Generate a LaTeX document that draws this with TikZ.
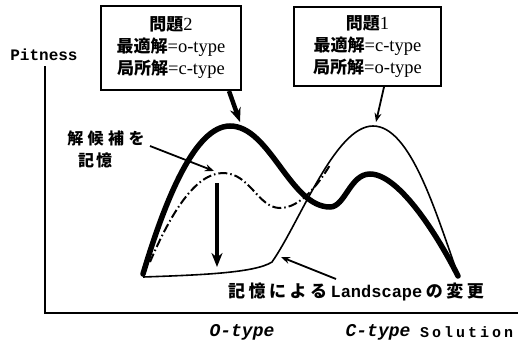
\documentclass[tikz,border=0pt]{standalone}
\usepackage{fontspec}
\setmainfont{Liberation Serif}
\setmonofont{Liberation Mono}
\newfontfamily\cjk{Noto Sans CJK JP}
\usetikzlibrary{arrows.meta}
\newcommand\jsp{\hspace{3.5pt}}
\newcommand\lk{\kern3pt}
\tikzset{
  box/.style={draw, line width=2pt, inner sep=0pt, align=center,
    font=\fontsize{18.5}{22}\selectfont},
  thickcurve/.style={line width=5.5pt, line cap=round},
  thincurve/.style={line width=1.6pt},
  dashdotcurve/.style={line width=2pt, dash pattern=on 9pt off 3pt on 1.5pt off 3pt},
  bigarrow/.style={line width=4.5pt, -{Stealth[length=14pt,width=11pt]}},
  smallarrow/.style={line width=1.8pt, -{Stealth[length=9pt,width=7pt]}},
  axis/.style={line width=2.5pt},
  jlabel/.style={inner sep=0pt, font=\cjk\bfseries\fontsize{16}{16}\selectfont},
  ttlabel/.style={inner sep=0pt, font=\ttfamily\bfseries\fontsize{16}{16}\selectfont},
}
\begin{document}
\begin{tikzpicture}[x=1pt, y=-1pt]
\useasboundingbox (0,0) rectangle (518,340);

% axes
\coordinate (ytop) at (45,66);
\coordinate (origin) at (45,313);
\coordinate (xend) at (518,313);
\draw[axis] (ytop) -- (origin) -- (xend);

% boxes
\node[box, minimum width=140pt, minimum height=84pt] (box2) at (171,48)
  {{\cjk\bfseries\fontsize{17}{22}\selectfont 問題}2\\{\cjk\bfseries\fontsize{17}{22}\selectfont 最適解}=o-type\\{\cjk\bfseries\fontsize{17}{22}\selectfont 局所解}=c-type};
\node[box, minimum width=147pt, minimum height=79pt] (box1) at (367.5,46.5)
  {{\cjk\bfseries\fontsize{17}{22}\selectfont 問題}1\\{\cjk\bfseries\fontsize{17}{22}\selectfont 最適解}=c-type\\{\cjk\bfseries\fontsize{17}{22}\selectfont 局所解}=o-type};

% landscapes
\draw[thickcurve] (143,274) .. controls (165,200) and (195,126) .. (230,126)
  .. controls (270,126) and (290,207) .. (330,207)
  .. controls (345,207) and (350,174) .. (370,174)
  .. controls (400,174) and (440,240) .. (458,276);
\draw[thincurve] (143,277) .. controls (200,275) and (255,273) .. (272,262)
  .. controls (300,222) and (335,126) .. (373,126)
  .. controls (410,126) and (435,210) .. (457,272);
\draw[dashdotcurve] (150,262) .. controls (170,215) and (195,173) .. (223,173)
  .. controls (250,173) and (258,208) .. (280,208)
  .. controls (300,208) and (318,185) .. (330,165);

% pointers
\coordinate (pk2) at (240,122);
\coordinate (pk1) at (376,122);
\coordinate (dpk) at (214,171);
\coordinate (dtop) at (217,183);
\coordinate (dbot) at (217,267);
\coordinate (thinpt) at (281,257);
\coordinate (cands) at (150,146);
\coordinate (lands) at (336,279);
\draw[bigarrow] ([xshift=-13pt]box2.south east) -- (pk2);
\draw[smallarrow] ([xshift=16.5pt]box1.south) -- (pk1);
\draw[bigarrow] (dtop) -- (dbot);

% labels
\node[ttlabel] (fit) at (44,55) {Pitness};
\node[jlabel] (cand) at (106,138) {解\hspace{4.5pt}候\hspace{4.5pt}補\hspace{4.5pt}を};
\node[jlabel] (mem) at (95,160) {記\hspace{2pt}憶};
\draw[smallarrow] (cands) -- (dpk);

\node[inner sep=0pt] (land) at (356,292)
  {{\cjk\bfseries\fontsize{17}{17}\selectfont 記\jsp 憶\jsp に\jsp よ\jsp る}\jsp{\ttfamily\bfseries\fontsize{17}{17}\selectfont Landscape}\jsp{\cjk\bfseries\fontsize{17}{17}\selectfont の\jsp 変\jsp 更}};
\draw[smallarrow] (lands) -- (thinpt);

\node[inner sep=0pt, font=\ttfamily\bfseries\itshape\fontsize{18}{18}\selectfont] (otype) at (242,332) {O-type};
\node[inner sep=0pt, font=\ttfamily\bfseries\itshape\fontsize{18}{18}\selectfont] (ctype) at (378,332) {C-type};
\node[inner sep=0pt, anchor=west, font=\ttfamily\bfseries\fontsize{15}{15}\selectfont] (sol) at (420,332) {S\lk o\lk l\lk u\lk t\lk i\lk o\lk n};
\end{tikzpicture}
\end{document}
